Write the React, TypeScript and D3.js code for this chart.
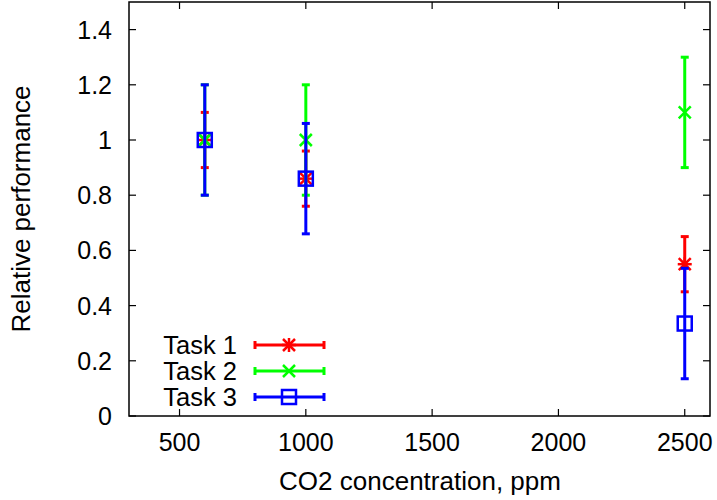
import React from "react";
import * as d3 from "d3";

const concentrations = [600, 1000, 2500];
const task1 = [1.0, 0.86, 0.55];
const task1Err = [0.1, 0.1, 0.1];
const task2 = [1.0, 1.0, 1.1];
const task2Err = [0.2, 0.2, 0.2];
const task3 = [1.0, 0.86, 0.335];
const task3Err = [0.2, 0.2, 0.2];
const seriesNames = ["Task 1", "Task 2", "Task 3"];
const seriesColors = ["#ff0000", "#00ff00", "#0000ff"];
const seriesMarkers = ["star", "cross", "square"];
const xTicks = [500, 1000, 1500, 2000, 2500];
const yTicks = [0, 0.2, 0.4, 0.6, 0.8, 1, 1.2, 1.4];

const W = 717;
const H = 500;
const L = 129, R = 710, T = 2, B = 416;
const FONT = "'Liberation Sans', Arial, Helvetica, sans-serif";

function Marker({ type, x, y, color }: { type: string; x: number; y: number; color: string }) {
  const s = 6;
  if (type === "square") {
    return <rect x={x - 7} y={y - 7} width={14} height={14} fill="none" stroke={color} strokeWidth={2.5} />;
  }
  if (type === "cross") {
    return (
      <g stroke={color} strokeWidth={2.5}>
        <line x1={x - s} y1={y - s} x2={x + s} y2={y + s} />
        <line x1={x - s} y1={y + s} x2={x + s} y2={y - s} />
      </g>
    );
  }
  return (
    <g stroke={color} strokeWidth={2.5}>
      <line x1={x - s} y1={y - s} x2={x + s} y2={y + s} />
      <line x1={x - s} y1={y + s} x2={x + s} y2={y - s} />
      <line x1={x} y1={y - s - 1} x2={x} y2={y + s + 1} />
      <line x1={x - s - 1} y1={y} x2={x + s + 1} y2={y} />
    </g>
  );
}

export default function App() {
  const x = d3.scaleLinear().domain([300, 2600]).range([L, R]);
  const y = d3.scaleLinear().domain([0, 1.5]).range([B, T]);
  const series = [
    { vals: task1, errs: task1Err },
    { vals: task2, errs: task2Err },
    { vals: task3, errs: task3Err },
  ];
  const legendY = [345, 371, 397];
  const tl = 7;
  return (
    <svg width={W} height={H} style={{ position: "absolute", left: 0, top: 0 }} fontFamily={FONT}>
      <rect width={W} height={H} fill="#fff" />
      <g stroke="#000" strokeWidth={1.2}>
        {yTicks.map((t) => (
          <g key={"y" + t}>
            <line x1={L} x2={L + tl} y1={y(t)} y2={y(t)} />
            <line x1={R} x2={R - tl} y1={y(t)} y2={y(t)} />
          </g>
        ))}
        {xTicks.map((t) => (
          <g key={"x" + t}>
            <line x1={x(t)} x2={x(t)} y1={B} y2={B - tl} />
            <line x1={x(t)} x2={x(t)} y1={T} y2={T + tl} />
          </g>
        ))}
      </g>
      {yTicks.map((t) => (
        <text key={"yl" + t} x={112} y={y(t)} dy="0.36em" textAnchor="end" fontSize={25} fill="#000">
          {d3.format("~g")(t)}
        </text>
      ))}
      {xTicks.map((t) => (
        <text key={"xl" + t} x={x(t)} y={451} textAnchor="middle" fontSize={25} fill="#000">
          {t}
        </text>
      ))}
      <text x={420} y={490} textAnchor="middle" fontSize={26} fill="#000">CO2 concentration, ppm</text>
      <text transform={`translate(30,${(T + B) / 2}) rotate(-90)`} textAnchor="middle" fontSize={26} fill="#000">
        Relative performance
      </text>
      {series.map((s, i) => (
        <g key={"s" + i}>
          {concentrations.map((c, j) => {
            const cx = x(c);
            const lo = y(s.vals[j] - s.errs[j]);
            const hi = y(s.vals[j] + s.errs[j]);
            return (
              <g key={j} stroke={seriesColors[i]} strokeWidth={3}>
                <line x1={cx} x2={cx} y1={lo} y2={hi} />
                <line x1={cx - 4} x2={cx + 4} y1={lo} y2={lo} />
                <line x1={cx - 4} x2={cx + 4} y1={hi} y2={hi} />
              </g>
            );
          })}
          {concentrations.map((c, j) => (
            <Marker key={"m" + j} type={seriesMarkers[i]} x={x(c)} y={y(s.vals[j])} color={seriesColors[i]} />
          ))}
        </g>
      ))}
      {seriesNames.map((n, i) => (
        <g key={"lg" + i}>
          <text x={237} y={legendY[i]} dy="0.36em" textAnchor="end" fontSize={25.5} fill="#000">{n}</text>
          <g stroke={seriesColors[i]} strokeWidth={3}>
            <line x1={255} x2={324} y1={legendY[i]} y2={legendY[i]} />
            <line x1={255} x2={255} y1={legendY[i] - 4} y2={legendY[i] + 4} />
            <line x1={324} x2={324} y1={legendY[i] - 4} y2={legendY[i] + 4} />
          </g>
          <Marker type={seriesMarkers[i]} x={289} y={legendY[i]} color={seriesColors[i]} />
        </g>
      ))}
      <rect x={L} y={T} width={R - L} height={B - T} fill="none" stroke="#000" strokeWidth={1.5} />
    </svg>
  );
}
